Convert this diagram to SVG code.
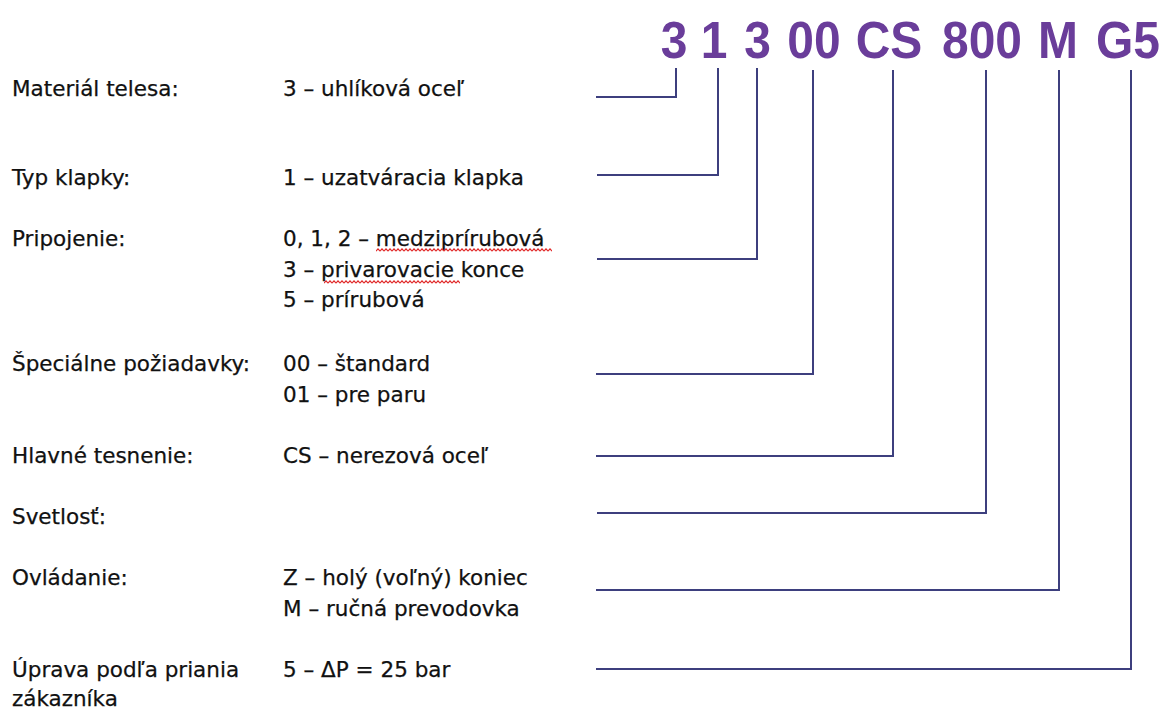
<svg xmlns="http://www.w3.org/2000/svg" width="1166" height="709" viewBox="0 0 1166 709">
<style>
.code{font-family:"Liberation Sans",Arial,sans-serif;font-weight:bold;font-size:50px;fill:#6a3d9a;text-anchor:middle}
.t{font-family:"DejaVu Sans","Noto Sans",sans-serif;font-size:21.5px;fill:#111111;stroke:#111111;stroke-width:0.25}
.c{fill:none;stroke:#3d3f7e;stroke-width:2}
</style>
<defs>
<pattern id="sq" width="4" height="4" patternUnits="userSpaceOnUse">
<path d="M0,3.2 L2,0.8 L4,3.2" fill="none" stroke="#e02828" stroke-width="1.1"/>
</pattern>
</defs>
<rect width="1166" height="709" fill="#ffffff"/>
<g id="code">
<text class="code" x="674" y="58" transform="translate(674 58) scale(0.96 1.04) translate(-674 -58)">3</text>
<text class="code" x="714" y="58" transform="translate(714 58) scale(0.96 1.04) translate(-714 -58)">1</text>
<text class="code" x="757.5" y="58" transform="translate(757.5 58) scale(0.96 1.04) translate(-757.5 -58)">3</text>
<text class="code" x="814" y="58" transform="translate(814 58) scale(0.96 1.04) translate(-814 -58)">00</text>
<text class="code" x="889" y="58" transform="translate(889 58) scale(0.96 1.04) translate(-889 -58)">CS</text>
<text class="code" x="982" y="58" transform="translate(982 58) scale(0.96 1.04) translate(-982 -58)">800</text>
<text class="code" x="1058" y="58" transform="translate(1058 58) scale(0.96 1.04) translate(-1058 -58)">M</text>
<text class="code" x="1128" y="58" transform="translate(1128 58) scale(0.96 1.04) translate(-1128 -58)">G5</text>
</g>
<g id="connectors">
<path class="c" d="M596,97 H676 V68"/>
<path class="c" d="M597,175 H718 V68"/>
<path class="c" d="M597,259 H757 V68"/>
<path class="c" d="M596,374 H813 V70"/>
<path class="c" d="M596,456 H893 V70"/>
<path class="c" d="M597,513 H986 V70"/>
<path class="c" d="M596,590 H1059 V70"/>
<path class="c" d="M596,669 H1131 V70"/>
</g>
<g id="row-material">
<text class="t" x="12" y="96">Materiál telesa:</text>
<text class="t" x="283" y="96">3 – uhlíková oceľ</text>
</g>
<g id="row-typ">
<text class="t" x="12" y="185">Typ klapky:</text>
<text class="t" x="283" y="185">1 – uzatváracia klapka</text>
</g>
<g id="row-pripojenie">
<text class="t" x="12" y="246">Pripojenie:</text>
<text class="t" x="283" y="246">0, 1, 2 – medziprírubová</text>
<text class="t" x="283" y="277">3 – privarovacie konce</text>
<text class="t" x="283" y="307">5 – prírubová</text>
<rect x="376" y="248" width="176" height="4" fill="url(#sq)"/>
<rect x="324" y="280" width="136" height="4" fill="url(#sq)"/>
</g>
<g id="row-specialne">
<text class="t" x="12" y="371">Špeciálne požiadavky:</text>
<text class="t" x="283" y="371">00 – štandard</text>
<text class="t" x="283" y="402">01 – pre paru</text>
</g>
<g id="row-tesnenie">
<text class="t" x="12" y="463">Hlavné tesnenie:</text>
<text class="t" x="283" y="463">CS – nerezová oceľ</text>
</g>
<g id="row-svetlost">
<text class="t" x="12" y="524">Svetlosť:</text>
</g>
<g id="row-ovladanie">
<text class="t" x="12" y="585">Ovládanie:</text>
<text class="t" x="283" y="585">Z – holý (voľný) koniec</text>
<text class="t" x="283" y="616">M – ručná prevodovka</text>
</g>
<g id="row-uprava">
<text class="t" x="12" y="677">Úprava podľa priania</text>
<text class="t" x="12" y="706">zákazníka</text>
<text class="t" x="283" y="677">5 – ΔP = 25 bar</text>
</g>
</svg>
